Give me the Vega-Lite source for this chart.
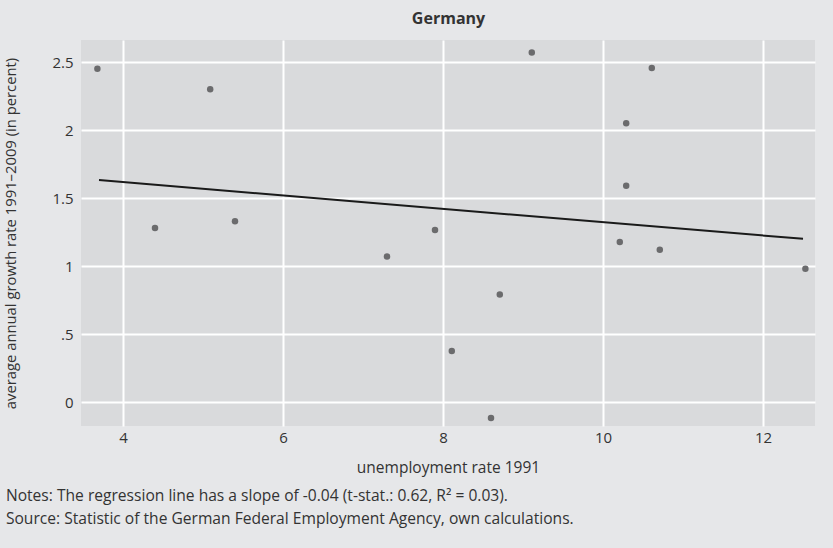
{
  "$schema": "https://vega.github.io/schema/vega-lite/v6.json",
  "background": "#e6e7e9",
  "autosize": "none",
  "width": 734,
  "height": 386,
  "padding": {"left": 81, "top": 40, "right": 18, "bottom": 122},
  "config": {
    "font": "Open Sans",
    "view": {"stroke": null, "fill": "#d9dadc"},
    "axis": {"domain": false, "ticks": false, "gridColor": "#ffffff", "gridWidth": 2, "labelFontSize": 15, "labelColor": "#333333", "titleFontSize": 15.5, "titleColor": "#333333", "titleFontWeight": "normal"}
  },
  "title": {"text": ["Notes: The regression line has a slope of -0.04 (t-stat.: 0.62, R² = 0.03).", "Source: Statistic of the German Federal Employment Agency, own calculations."], "orient": "bottom", "anchor": "start", "frame": "bounds", "fontSize": 15.6, "fontWeight": "normal", "color": "#333333", "lineHeight": 23, "offset": 13, "dx": 2},
  "datasets": {
    "pts": [
      {"u": 3.68, "g": 2.45},
      {"u": 4.4, "g": 1.28},
      {"u": 5.09, "g": 2.3},
      {"u": 5.4, "g": 1.33},
      {"u": 7.3, "g": 1.07},
      {"u": 7.9, "g": 1.265},
      {"u": 8.11, "g": 0.375},
      {"u": 8.6, "g": -0.118},
      {"u": 8.71, "g": 0.79},
      {"u": 9.11, "g": 2.57},
      {"u": 10.21, "g": 1.176},
      {"u": 10.29, "g": 2.05},
      {"u": 10.29, "g": 1.59},
      {"u": 10.61, "g": 2.456},
      {"u": 10.71, "g": 1.12},
      {"u": 12.53, "g": 0.98}
    ],
    "fit": [
      {"u": 3.7, "g": 1.632},
      {"u": 12.5, "g": 1.2}
    ]
  },
  "resolve": {"axis": {"x": "independent"}},
  "layer": [
    {
      "data": {"name": "pts"},
      "mark": {"type": "circle", "size": 42, "color": "#6b6b6d", "opacity": 1},
      "encoding": {
        "x": {"field": "u", "type": "quantitative", "scale": {"domain": [3.475, 12.65], "nice": false, "zero": false}, "axis": {"values": [4, 6, 8, 10, 12], "title": "unemployment rate 1991", "labelPadding": 4, "titlePadding": 15}},
        "y": {"field": "g", "type": "quantitative", "scale": {"domain": [-0.176, 2.662], "nice": false, "zero": false}, "axis": {"values": [0, 0.5, 1, 1.5, 2, 2.5], "labelExpr": "datum.value == 0.5 ? '.5' : format(datum.value, '~g')", "title": "average annual growth rate 1991–2009 (in percent)", "titleFontSize": 14.8, "labelPadding": 8, "titlePadding": 33}}
      }
    },
    {
      "data": {"name": "fit"},
      "mark": {"type": "line", "color": "#1a1a1a", "strokeWidth": 2},
      "encoding": {
        "x": {"field": "u", "type": "quantitative", "axis": {"orient": "top", "labels": false, "grid": false, "title": "Germany", "titleFontSize": 16, "titleFontWeight": "bold", "titlePadding": 14}},
        "y": {"field": "g", "type": "quantitative"}
      }
    }
  ]
}
